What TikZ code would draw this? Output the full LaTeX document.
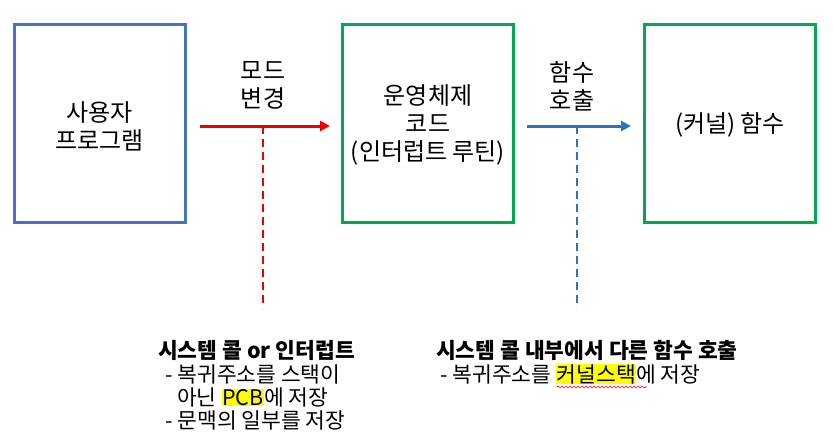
\documentclass[tikz,border=0pt]{standalone}
\usepackage{fontspec}
\setmainfont{Noto Sans CJK KR}
\usetikzlibrary{arrows.meta,decorations.pathmorphing}
\definecolor{boxblue}{RGB}{68,114,196}
\definecolor{boxgreen}{RGB}{0,168,80}
\definecolor{arrred}{RGB}{238,0,0}
\definecolor{arrblue}{RGB}{46,117,182}
\definecolor{hl}{RGB}{255,255,0}
\tikzset{
  panel/.style={draw=#1, line width=3pt, minimum width=171pt, minimum height=198pt, inner sep=0pt},
  big/.style={font=\fontsize{24}{28}\selectfont, align=center, inner sep=0pt},
  note/.style={font=\fontsize{21.5}{23}\selectfont, anchor=west, inner sep=0pt},
  notebold/.style={note, font=\fontsize{21.5}{23}\selectfont\bfseries},
  mainarrow/.style={draw=#1, line width=3pt, -{Triangle[length=10pt,width=10pt]}},
  guide/.style={draw=#1, line width=2pt, dash pattern=on 8pt off 5pt},
}
\newcommand{\hlbox}[1]{\tikz[baseline=(h.base)]\node[fill=hl,inner sep=0.5pt,outer sep=0pt](h){#1};}
\begin{document}
\begin{tikzpicture}[x=1pt,y=-1pt]
\useasboundingbox (0,0) rectangle (833,442);
% boxes
\node[panel=boxblue] (user) at (99.5,123) {};
\node[panel=boxgreen] (os) at (428,123) {};
\node[panel=boxgreen] (kern) at (730,123) {};
\node[big] (usert) at (99.5,126) {사용자\\프로그램};
\node[big] (ost) at (428,125) {운영체제\\코드\\(인터럽트 루틴)};
\node[big] (kernt) at (730,125) {(커널) 함수};
% arrows
\coordinate (a1s) at (200,126);
\coordinate (a1e) at (330,126);
\coordinate (d1t) at (263,126);
\coordinate (d1b) at (263,308);
\coordinate (a2s) at (527,126);
\coordinate (a2e) at (631,126);
\coordinate (d2t) at (577,126);
\coordinate (d2b) at (577,308);
\draw[guide=arrred] (d1t) -- (d1b);
\draw[guide=arrblue] (d2t) -- (d2b);
\draw[mainarrow=arrred] (a1s) -- (a1e);
\draw[mainarrow=arrblue] (a2s) -- (a2e);
\node[big] (lab1) at (263,85) {모드\\변경};
\node[big] (lab2) at (572,86) {함수\\호출};
% notes
\node[notebold] (n1) at (158,350) {시스템 콜 or 인터럽트};
\node[note] (n2) at (165,374) {- 복귀주소를 스택이};
\node[note] (n3) at (177,397) {아닌 \hlbox{PCB}에 저장};
\node[note] (n4) at (165,420) {- 문맥의 일부를 저장};
\node[notebold] (m1) at (436,350) {시스템 콜 내부에서 다른 함수 호출};
\node[note] (m2) at (440,374) {- 복귀주소를 \hlbox{커널스택}에 저장};
\coordinate (w1) at (557,387);
\coordinate (w2) at (647,387);
\draw[red, line width=0.6pt, decorate, decoration={snake, amplitude=1pt, segment length=4pt}] (w1) -- (w2);
\end{tikzpicture}
\end{document}
